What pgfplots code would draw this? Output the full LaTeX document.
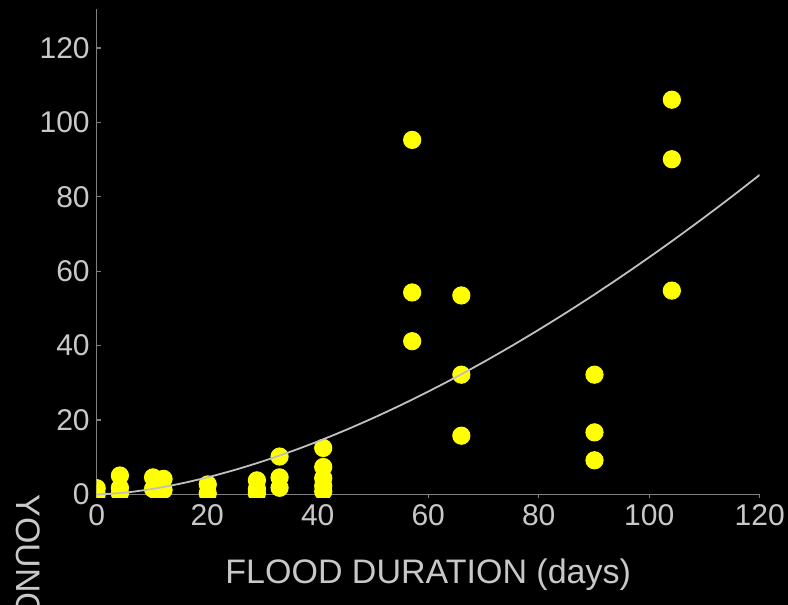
\documentclass[border=0pt]{standalone}
\usepackage{fontspec}
\setmainfont{Liberation Sans}
\usepackage{pgfplots}
\pgfplotsset{compat=1.18}
\definecolor{axisgray}{RGB}{128,128,128}
\definecolor{labelgray}{RGB}{200,200,200}
\definecolor{curvegray}{RGB}{192,192,192}
\definecolor{dotyellow}{RGB}{255,255,0}
\begin{document}
\begin{tikzpicture}
\path[use as bounding box] (0,0) rectangle (394pt,302.5pt);
\clip (0,0) rectangle (394pt,302.5pt);
\fill[black] (0,0) rectangle (394pt,302.5pt);
\begin{axis}[
  at={(48.35pt,53.65pt)}, anchor=south west,
  scale only axis, width=331.5pt, height=244.2pt,
  xmin=0, xmax=120, ymin=-0.86, ymax=130.4,
  axis lines=left,
  axis line style={-, draw=axisgray, line width=0.75pt},
  x axis line style={yshift=1.6pt},
  xtick={0,20,...,120}, ytick={0,20,...,120},
  tick align=inside, major tick length=2pt,
  tick style={axisgray, line width=0.6pt},
  ticklabel style={font=\fontsize{15pt}{17pt}\selectfont, text=labelgray},
  /pgf/number format/assume math mode=true,
  xlabel={FLOOD DURATION (days)},
  xlabel style={at={(axis description cs:0.5,0)}, anchor=base, yshift=-43.15pt,
    font=\fontsize{17pt}{20pt}\selectfont, text=labelgray},
  ylabel={YOUNG},
  ylabel style={at={(axis description cs:-0.1207,0.0076)}, anchor=base west,
    rotate=180, inner sep=0pt, font=\fontsize{17pt}{20pt}\selectfont, text=labelgray},
  clip marker paths=true,
]
\addplot[only marks, color=dotyellow, mark=*, mark size=4.3pt,
  mark options={draw=dotyellow, fill=dotyellow, line width=0.5pt}] coordinates {
  (0,0) (0,1.7)
  (4.2,0.3) (4.2,1.8) (4.2,5.1)
  (10.2,1.5) (10.2,4.6) (11,0.5) (12.1,1.2) (12.1,4.2)
  (20.1,0.3) (20.1,2.7)
  (29,0.3) (29,1.5) (29,3.8)
  (33.1,1.8) (33.1,4.6) (33.1,10.2)
  (41,0.8) (41,2.3) (41,4.4) (41,7.4) (41,12.5)
  (57.1,41.2) (57.1,54.3) (57.1,95.3)
  (66,15.8) (66,32.2) (66,53.5)
  (90.1,9.2) (90.1,16.7) (90.1,32.2)
  (104.1,54.8) (104.1,90.1) (104.1,106.1)
};
\addplot[curvegray, line width=0.9pt, smooth] coordinates {
  (0,0) (5,0.48) (10,1.48) (15,2.87) (20,4.59) (25,6.61) (30,8.90) (35,11.46)
  (40,14.25) (45,17.28) (50,20.53) (55,23.99) (60,27.66) (65,31.52) (70,35.58)
  (75,39.83) (80,44.27) (85,48.88) (90,53.67) (95,58.63) (100,63.76) (105,69.05)
  (110,74.51) (115,80.12) (120,85.9)
};
\end{axis}
\end{tikzpicture}
\end{document}
